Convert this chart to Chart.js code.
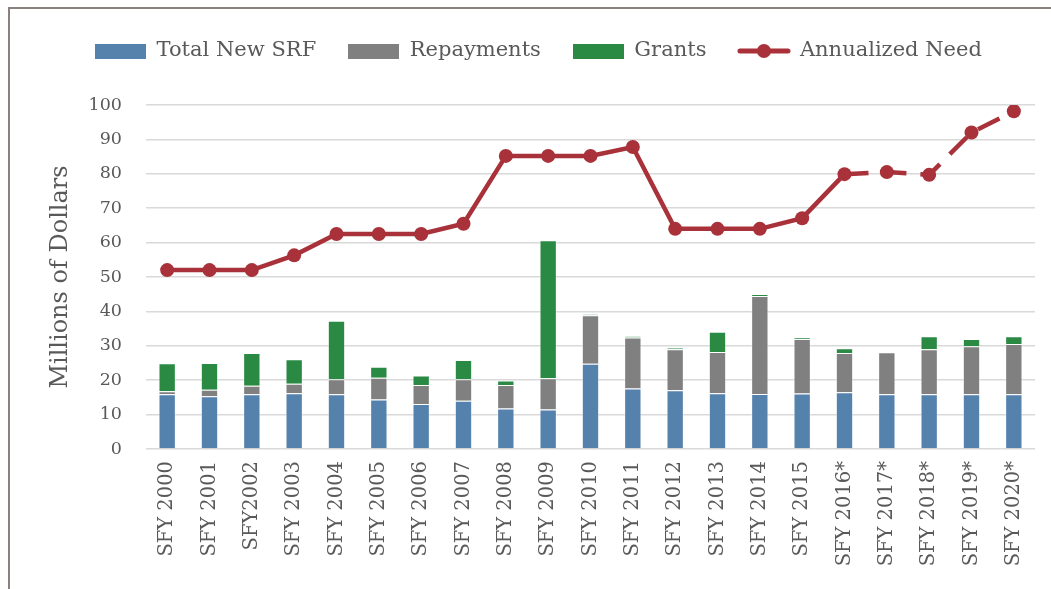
<!DOCTYPE html>
<html>
<head>
<meta charset="utf-8">
<script src="https://cdn.jsdelivr.net/npm/chart.js@4.4.1/dist/chart.umd.min.js"></script>
<style>
  html, body { margin: 0; padding: 0; background: #fff; overflow: hidden; }
  #frame { position: absolute; left: 8px; top: 7px; width: 1200px; height: 800px;
           border-left: 2px solid #8b807d; border-top: 2px solid #8b807d; }
  #wrap { position: absolute; left: 0; top: 0; width: 1051px; height: 589px; }
</style>
</head>
<body>
<div id="frame"></div>
<div id="wrap"><canvas id="myChart"></canvas></div>
<script>
const years = ["SFY 2000", "SFY 2001", "SFY2002", "SFY 2003", "SFY 2004", "SFY 2005", "SFY 2006",
  "SFY 2007", "SFY 2008", "SFY 2009", "SFY 2010", "SFY 2011", "SFY 2012", "SFY 2013", "SFY 2014",
  "SFY 2015", "SFY 2016*", "SFY 2017*", "SFY 2018*", "SFY 2019*", "SFY 2020*"];

const totalNewSRF = [15.9, 15.3, 15.9, 16.2, 15.9, 14.4, 13.1, 14.0, 11.8, 11.5, 24.8,
  17.6, 17.1, 16.2, 16.0, 16.1, 16.5, 15.9, 15.9, 15.9, 15.9];
const repayments = [0.9, 1.9, 2.5, 2.8, 4.4, 6.3, 5.5, 6.3, 6.8, 9.1, 14.1,
  14.8, 11.9, 12.0, 28.5, 15.9, 11.4, 12.2, 13.1, 14.0, 14.6];
const grants = [8.1, 7.8, 9.5, 7.1, 17.0, 3.2, 2.8, 5.6, 1.3, 40.1, 0.3,
  0.4, 0.4, 5.9, 0.5, 0.4, 1.4, 0, 3.8, 2.1, 2.3];
const annualizedNeed = [52.0, 52.0, 52.0, 56.3, 62.5, 62.5, 62.5, 65.5, 85.2, 85.2, 85.2,
  87.8, 64.0, 64.0, 64.0, 67.1, 79.9, 80.5, 79.7, 92.0, 98.2];
const yTicks = [0, 10, 20, 30, 40, 50, 60, 70, 80, 90, 100];

const firstProjected = 16; // SFY 2016* onwards drawn dashed

const BLUE = "#5581ad";
const GRAY = "#808080";
const GREEN = "#2a8a43";
const RED = "#a8313a";
const TEXT = "#595959";
const FONT = "'DejaVu Serif', serif";

// legend swatches as little canvases so the line entry shows line + marker
function swatch(w, h, paint) {
  const c = document.createElement("canvas");
  c.width = w; c.height = h;
  paint(c.getContext("2d"));
  return c;
}
const boxIcon = (color) => swatch(51, 15, (g) => { g.fillStyle = color; g.fillRect(0, 0, 51, 15); });
const lineIcon = swatch(54, 16, (g) => {
  g.strokeStyle = RED; g.lineWidth = 5; g.lineCap = "round";
  g.beginPath(); g.moveTo(3, 8); g.lineTo(51, 8); g.stroke();
  g.fillStyle = RED; g.beginPath(); g.arc(27, 8, 7, 0, Math.PI * 2); g.fill();
});
const icons = [boxIcon(BLUE), boxIcon(GRAY), boxIcon(GREEN), lineIcon];

const barDefaults = {
  type: "bar",
  stack: "funds",
  order: 1,
  barPercentage: 0.41,
  categoryPercentage: 1,
  borderColor: "rgba(255,255,255,0.45)",
  borderWidth: 1,
};

const data = {
  labels: years,
  datasets: [
    { ...barDefaults, label: "Total New SRF", data: totalNewSRF, backgroundColor: BLUE },
    { ...barDefaults, label: "Repayments", data: repayments, backgroundColor: GRAY },
    { ...barDefaults, label: "Grants", data: grants, backgroundColor: GREEN },
    {
      type: "line",
      label: "Annualized Need",
      data: annualizedNeed,
      order: 0,
      borderColor: RED,
      backgroundColor: RED,
      borderWidth: 4.5,
      tension: 0,
      pointRadius: 7,
      pointHoverRadius: 7,
      pointBorderWidth: 0,
      pointBackgroundColor: RED,
      segment: {
        borderDash: (ctx) => (ctx.p0DataIndex >= firstProjected ? [24, 14] : undefined),
      },
    },
  ],
};

const config = {
  data: data,
  options: {
    responsive: true,
    maintainAspectRatio: false,
    animation: false,
    layout: { padding: { left: 42, right: 16, top: 8.5, bottom: 0 } },
    plugins: {
      tooltip: { enabled: false },
      legend: {
        position: "top",
        labels: {
          usePointStyle: true,
          pointStyleWidth: 51,
          padding: 32,
          color: TEXT,
          font: { family: FONT, size: 21 },
          generateLabels: (chart) =>
            chart.data.datasets.map((ds, i) => ({
              text: ds.label,
              pointStyle: icons[i],
              fillStyle: "transparent",
              strokeStyle: "transparent",
              lineWidth: 0,
              fontColor: TEXT,
              hidden: false,
              datasetIndex: i,
            })),
        },
      },
      // empty spacer under the legend
      subtitle: {
        display: true,
        text: "",
        weight: 500,
        padding: 0,
        font: { size: 10, lineHeight: 3.35 },
      },
    },
    scales: {
      x: {
        stacked: true,
        grid: { display: false, drawTicks: false },
        border: { display: false },
        ticks: {
          color: TEXT,
          font: { family: FONT, size: 19.5 },
          minRotation: 90,
          maxRotation: 90,
          padding: 12,
          autoSkip: false,
        },
        afterFit: (s) => { s.height = 140; },
      },
      y: {
        stacked: true,
        min: 0,
        max: 100,
        afterBuildTicks: (s) => { s.ticks = yTicks.map((v) => ({ value: v })); },
        grid: { color: "#d9d9d9", lineWidth: 1.5, drawTicks: false },
        border: { display: false },
        ticks: {
          color: TEXT,
          font: { family: FONT, size: 17.5 },
          padding: 24,
        },
        title: {
          display: true,
          text: "Millions of Dollars",
          color: TEXT,
          font: { family: FONT, size: 24 },
        },
        afterFit: (s) => { s.width = 104; },
      },
    },
  },
};

const myChart = new Chart(document.getElementById("myChart"), config);
</script>
</body>
</html>
